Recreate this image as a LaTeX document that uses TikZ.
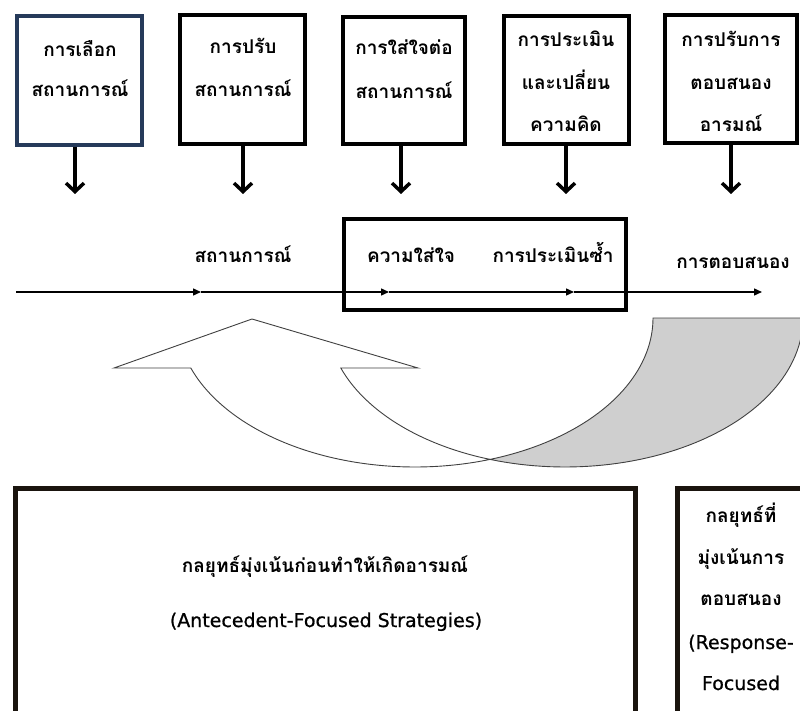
\documentclass[tikz,border=0pt]{standalone}
\usepackage{fontspec}
\newfontfamily\thaifont[Script=Thai]{Loma}
\newfontfamily\latinfont[FakeBold=0.8]{DejaVu Sans}
\usetikzlibrary{arrows.meta}
\definecolor{navyframe}{HTML}{263A5A}
\definecolor{backshade}{HTML}{CFCFCF}
\definecolor{darkframe}{HTML}{1A140E}
\begin{document}
\begin{tikzpicture}[x=1pt,y=-1pt,
  txt/.style={font=\thaifont\bfseries\fontsize{19}{22}\selectfont, inner sep=0pt, anchor=base},
  smalltxt/.style={font=\thaifont\bfseries\fontsize{19}{22}\selectfont, inner sep=0pt, anchor=base},
  entxt/.style={font=\latinfont\fontsize{19}{22}\selectfont, inner sep=0pt, anchor=base},
  stagebox/.style={draw=black, line width=4pt, inner sep=0pt, fill=white},
  downarrow/.style={line width=3.8pt, -{Straight Barb[length=8.5pt,width=18pt,line width=3.5pt]}},
  flow/.style={line width=1.4pt, -{Triangle[length=8pt,width=7pt]}},
  bigarrow/.style={draw=black!75, line width=0.9pt, line join=miter},
]
\useasboundingbox (0,0) rectangle (800,711);
\clip (0,0) rectangle (800,711);

% ---- top row of strategy boxes ----
\node[stagebox, draw=navyframe, minimum width=125pt, minimum height=129pt] (b1) at (79.5,80.5) {};
\node[stagebox, minimum width=125pt, minimum height=129pt] (b2) at (242.5,79.5) {};
\node[stagebox, minimum width=122pt, minimum height=127pt] (b3) at (404,80.5) {};
\node[stagebox, minimum width=125pt, minimum height=128pt] (b4) at (566.5,80) {};
\node[stagebox, minimum width=132pt, minimum height=128pt] (b5) at (731,79) {};

\node[txt] (b1a) at (80,57) {การเลือก};
\node[txt] (b1b) at (80,97) {สถานการณ์};
\node[txt] (b2a) at (243,54) {การปรับ};
\node[txt] (b2b) at (243,97) {สถานการณ์};
\node[txt] (b3a) at (404,55) {การใส่ใจต่อ};
\node[txt] (b3b) at (404,99) {สถานการณ์};
\node[txt] (b4a) at (566,47) {การประเมิน};
\node[txt] (b4b) at (566,90) {และเปลี่ยน};
\node[txt] (b4c) at (566,132) {ความคิด};
\node[txt] (b5a) at (731,47) {การปรับการ};
\node[txt] (b5b) at (731,90) {ตอบสนอง};
\node[txt] (b5c) at (731,132) {อารมณ์};

% ---- arrows from each box down to the process line ----
\coordinate (d1) at (75,194);
\coordinate (d2) at (243,194);
\coordinate (d3) at (401,194);
\coordinate (d4) at (566,194);
\coordinate (d5) at (731,194);
\draw[downarrow] (b1.south -| d1) -- (d1);
\draw[downarrow] (b2.south -| d2) -- (d2);
\draw[downarrow] (b3.south -| d3) -- (d3);
\draw[downarrow] (b4.south -| d4) -- (d4);
\draw[downarrow] (b5.south -| d5) -- (d5);

% ---- process line ----
\node[draw=black, line width=4pt, minimum width=282pt, minimum height=91pt, inner sep=0pt] (core) at (485,264.5) {};
\coordinate (h0) at (16,292);
\coordinate (h1) at (201,292);
\coordinate (h2) at (389,292);
\coordinate (h3) at (574,292);
\coordinate (h4) at (762,292);
\draw[flow] (h0) -- (h1);
\draw[flow] (h1) -- (h2);
\draw[flow] (h2) -- (h3);
\draw[flow] (h3) -- (h4);

\node[txt] (s1) at (243,262) {สถานการณ์};
\node[txt] (s2) at (411,262) {ความใส่ใจ};
\node[txt] (s3) at (553,262) {การประเมินซ้ำ};
\node[txt] (s4) at (733,269) {การตอบสนอง};

% ---- curved feedback arrow ----
% back (shaded) part, between the two ellipses
\path[bigarrow, fill=backshade]
  plot[domain=0:71.6, samples=50] ({415+238*cos(\x)}, {318+149*sin(\x)})
  -- plot[domain=108.4:0, samples=60] ({565+238*cos(\x)}, {318+149*sin(\x)})
  -- cycle;
% front part with the arrow head
\path[bigarrow, fill=white]
  plot[domain=160.4:71.6, samples=80] ({415+238*cos(\x)}, {318+149*sin(\x)})
  -- plot[domain=108.4:160.4, samples=50] ({565+238*cos(\x)}, {318+149*sin(\x)})
  -- (418,368) -- (252,319) -- (114,368) -- cycle;

% ---- strategy groups ----
\node[draw=darkframe, line width=5pt, minimum width=620pt, minimum height=240pt, inner sep=0pt] (ante) at (325.5,608.5) {};
\node[draw=darkframe, line width=5pt, minimum width=200pt, minimum height=240pt, inner sep=0pt] (resp) at (777,608.5) {};

\node[smalltxt] (a1) at (325,572) {กลยุทธ์มุ่งเน้นก่อนทำให้เกิดอารมณ์};
\node[entxt] (a2) at (326,627) {(Antecedent-Focused Strategies)};

\node[smalltxt] (r1) at (741,522) {กลยุทธ์ที่};
\node[smalltxt] (r2) at (741,564) {มุ่งเน้นการ};
\node[smalltxt] (r3) at (741,605) {ตอบสนอง};
\node[entxt] (r4) at (741,649) {(Response-};
\node[entxt] (r5) at (741,690) {Focused};
\end{tikzpicture}
\end{document}
